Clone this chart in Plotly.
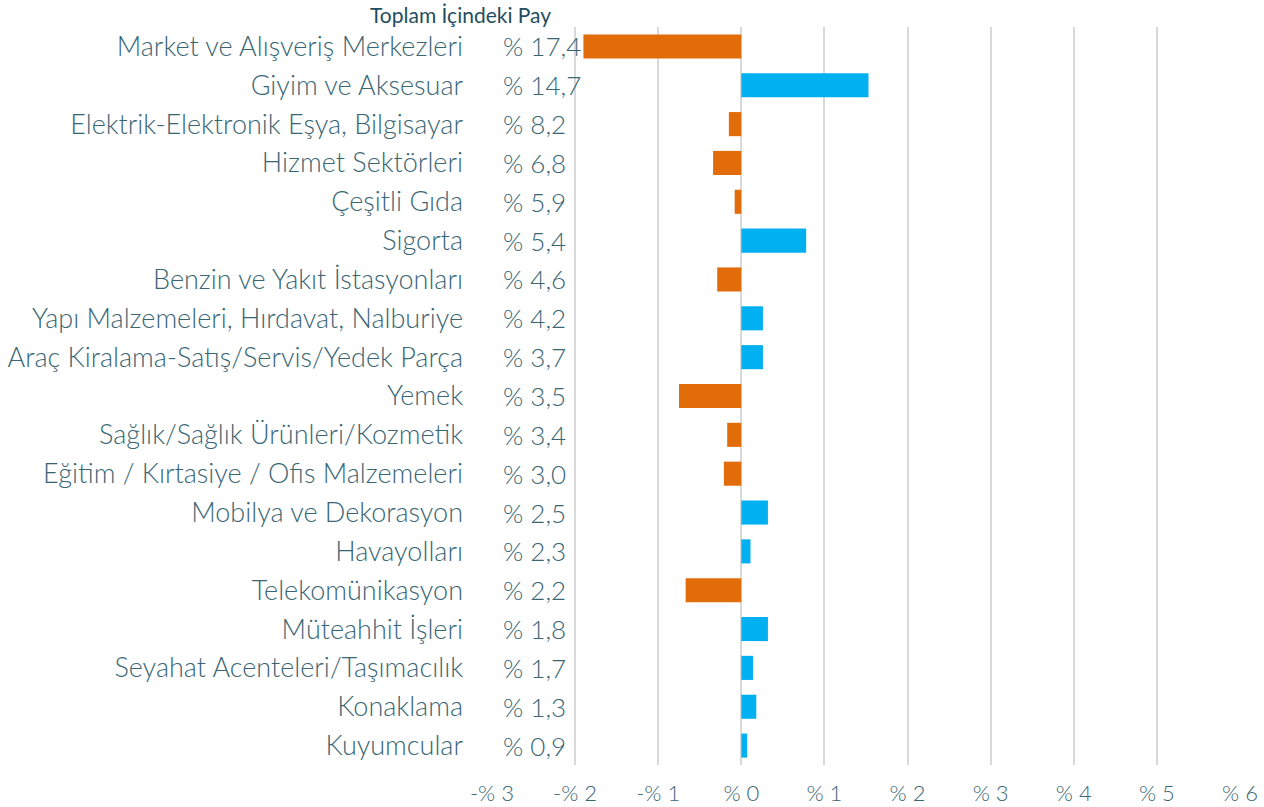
import plotly.graph_objects as go

kategoriler = [
    "Market ve Alışveriş Merkezleri",
    "Giyim ve Aksesuar",
    "Elektrik-Elektronik Eşya, Bilgisayar",
    "Hizmet Sektörleri",
    "Çeşitli Gıda",
    "Sigorta",
    "Benzin ve Yakıt İstasyonları",
    "Yapı Malzemeleri, Hırdavat, Nalburiye",
    "Araç Kiralama-Satış/Servis/Yedek Parça",
    "Yemek",
    "Sağlık/Sağlık Ürünleri/Kozmetik",
    "Eğitim / Kırtasiye / Ofis Malzemeleri",
    "Mobilya ve Dekorasyon",
    "Havayolları",
    "Telekomünikasyon",
    "Müteahhit İşleri",
    "Seyahat Acenteleri/Taşımacılık",
    "Konaklama",
    "Kuyumcular",
]
degisim = [-1.90, 1.53, -0.15, -0.34, -0.08, 0.78, -0.29, 0.26, 0.26, -0.75,
           -0.17, -0.21, 0.32, 0.11, -0.67, 0.32, 0.14, 0.18, 0.07]
pay = ["% 17,4", "% 14,7", "% 8,2", "% 6,8", "% 5,9", "% 5,4", "% 4,6", "% 4,2",
       "% 3,7", "% 3,5", "% 3,4", "% 3,0", "% 2,5", "% 2,3", "% 2,2", "% 1,8",
       "% 1,7", "% 1,3", "% 0,9"]
x_ticks = [-3, -2, -1, 0, 1, 2, 3, 4, 5, 6]
x_labels = ["-% 3", "-% 2", "-% 1", "% 0", "% 1", "% 2", "% 3", "% 4", "% 5", "% 6"]

TURUNCU = "#E36C0A"
MAVI = "#00B0F0"
YAZI = "#3A6674"
FONT = "Lato"

renkler = [MAVI if v >= 0 else TURUNCU for v in degisim]

fig = go.Figure()
fig.add_trace(go.Bar(
    x=degisim, y=kategoriler, orientation="h",
    marker=dict(color=renkler, line=dict(width=0)),
    hoverinfo="x+y",
))

# pay değerleri, grafiğin sol kenarında
for k, p in zip(kategoriler, pay):
    fig.add_annotation(x=-3, y=k, text=p, showarrow=False, xanchor="left",
                       xshift=9, font=dict(family=FONT, size=26, color=YAZI, weight=300))

fig.add_annotation(x=-3, y=1, xref="x", yref="paper", yanchor="top", yshift=27,
                   text="Toplam İçindeki Pay", showarrow=False, xanchor="center",
                   xshift=-32, font=dict(family=FONT, size=21, color="#1F4E5F"))

fig.update_layout(
    width=1264, height=807,
    margin=dict(l=492, r=24, t=27, b=42),
    paper_bgcolor="white", plot_bgcolor="white",
    bargap=0.38, showlegend=False,
    font=dict(family=FONT, color=YAZI),
)
fig.update_xaxes(range=[-3, 6], tickvals=x_ticks, ticktext=x_labels,
                 showgrid=True, gridcolor="#D9D9D9", gridwidth=1.5,
                 zeroline=False, showline=False,
                 ticklabelstandoff=13, automargin=False,
                 tickfont=dict(family=FONT, size=22, color=YAZI, weight=300))
fig.update_yaxes(autorange="reversed", categoryorder="array", categoryarray=kategoriler,
                 showgrid=False, zeroline=False, showline=False,
                 ticklabelstandoff=28, automargin=False,
                 tickfont=dict(family=FONT, size=27, color=YAZI, weight=300))

# sayfanın varsayılan 8px body boşluğunu kaldır
fig.write_html("out.html", config={"displayModeBar": False},
               post_script="document.body.style.margin='0';document.body.style.overflow='hidden';")
